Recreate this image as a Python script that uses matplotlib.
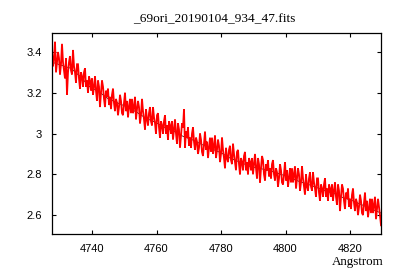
import numpy as np
import matplotlib
matplotlib.use("Agg")
import matplotlib.pyplot as plt

title = "_69ori_20190104_934_47.fits"
xlabel = "Angstrom"
wave_start = 4727.6
wave_end = 4829.6

flux_red = [
    3.40, 3.33, 3.37, 3.45, 3.30, 3.35, 3.40, 3.37, 3.29, 3.34, 3.44, 3.35, 3.31, 3.27, 3.37, 3.19, 3.30, 3.35, 3.38, 3.31,
    3.29, 3.41, 3.33, 3.30, 3.25, 3.34, 3.34, 3.27, 3.22, 3.30, 3.28, 3.23, 3.30, 3.32, 3.23, 3.26, 3.20, 3.28, 3.26, 3.21,
    3.27, 3.19, 3.23, 3.28, 3.21, 3.16, 3.26, 3.23, 3.13, 3.20, 3.26, 3.23, 3.17, 3.13, 3.21, 3.18, 3.22, 3.14, 3.18, 3.12,
    3.19, 3.22, 3.15, 3.11, 3.17, 3.15, 3.09, 3.13, 3.19, 3.16, 3.10, 3.09, 3.15, 3.20, 3.11, 3.16, 3.08, 3.13, 3.17, 3.10,
    3.17, 3.10, 3.13, 3.18, 3.07, 3.12, 3.16, 3.13, 3.05, 3.09, 3.17, 3.11, 3.07, 3.02, 3.12, 3.07, 3.04, 3.10, 3.13, 3.06,
    3.04, 3.13, 3.08, 3.05, 3.00, 3.09, 3.10, 3.03, 2.98, 3.06, 3.04, 3.00, 3.06, 3.09, 3.00, 3.04, 2.97, 3.06, 3.04, 3.00,
    3.06, 2.97, 3.02, 3.07, 3.00, 2.95, 3.05, 3.02, 2.93, 2.99, 3.05, 3.03, 3.12, 2.93, 3.01, 2.98, 3.03, 2.94, 2.98, 2.93,
    3.00, 3.03, 2.96, 2.92, 2.98, 2.96, 2.90, 2.93, 3.00, 2.97, 2.91, 2.89, 2.95, 3.01, 2.92, 2.96, 2.88, 2.93, 2.98, 2.91,
    2.98, 2.90, 2.94, 2.99, 2.88, 2.92, 2.97, 2.94, 2.86, 2.90, 2.98, 2.92, 2.88, 2.83, 2.93, 2.88, 2.86, 2.92, 2.94, 2.87,
    2.85, 2.95, 2.90, 2.86, 2.82, 2.91, 2.92, 2.85, 2.80, 2.88, 2.86, 2.82, 2.89, 2.91, 2.82, 2.86, 2.80, 2.88, 2.86, 2.82,
    2.88, 2.80, 2.85, 2.90, 2.83, 2.78, 2.88, 2.85, 2.76, 2.83, 2.89, 2.87, 2.80, 2.77, 2.85, 2.82, 2.87, 2.79, 2.83, 2.78,
    2.85, 2.87, 2.80, 2.77, 2.83, 2.81, 2.74, 2.78, 2.85, 2.82, 2.76, 2.75, 2.80, 2.86, 2.77, 2.82, 2.74, 2.78, 2.83, 2.76,
    2.83, 2.76, 2.80, 2.84, 2.73, 2.78, 2.83, 2.80, 2.72, 2.76, 2.84, 2.78, 2.74, 2.70, 2.80, 2.74, 2.72, 2.78, 2.81, 2.74,
    2.72, 2.81, 2.76, 2.73, 2.69, 2.78, 2.78, 2.71, 2.67, 2.75, 2.73, 2.69, 2.75, 2.78, 2.69, 2.73, 2.67, 2.75, 2.73, 2.69,
    2.75, 2.67, 2.72, 2.76, 2.69, 2.65, 2.75, 2.72, 2.62, 2.69, 2.75, 2.73, 2.67, 2.63, 2.71, 2.68, 2.73, 2.64, 2.68, 2.63,
    2.70, 2.73, 2.66, 2.62, 2.68, 2.66, 2.60, 2.64, 2.70, 2.67, 2.61, 2.60, 2.66, 2.71, 2.62, 2.67, 2.59, 2.63, 2.68, 2.61,
    2.68, 2.61, 2.65, 2.69, 2.58, 2.63, 2.68, 2.64, 2.60, 2.55,
]

flux_black = [
    3.35, 3.335, 3.32, 3.28, 3.23, 3.205, 3.17, 3.15, 3.13, 3.105,
    3.075, 3.055, 3.03, 3.01, 2.985, 2.968, 2.945, 2.925, 2.905, 2.878,
    2.86, 2.84, 2.83, 2.82, 2.805, 2.79, 2.77, 2.755, 2.738, 2.72,
    2.706, 2.685, 2.67, 2.65, 2.63, 2.61,
]

wave_red = np.linspace(wave_start, wave_end, len(flux_red))
wave_black = np.linspace(wave_start, wave_end, len(flux_black))

fig = plt.figure(figsize=(4.0, 2.8), dpi=100)
ax = fig.add_axes([0.13, 0.164, 0.8225, 0.718])
ax.plot(wave_black, flux_black, color="black", lw=0.5)
ax.plot(wave_red, flux_red, color="#ff0000", lw=1.3, solid_joinstyle="miter")

ax.set_xlim(wave_start, wave_end)
ax.set_ylim(2.507, 3.493)
ax.set_xticks([4740, 4760, 4780, 4800, 4820])
ax.set_yticks([2.6, 2.8, 3.0, 3.2, 3.4])
ax.set_yticklabels(["2.6", "2.8", "3", "3.2", "3.4"])
ax.tick_params(direction="in", length=3, width=0.8, top=True, right=True,
               labelsize=8, pad=7)
for lab in ax.get_xticklabels() + ax.get_yticklabels():
    lab.set_family("Liberation Sans")
for s in ax.spines.values():
    s.set_linewidth(0.9)

fig.text(0.536, 0.932, title, ha="center", va="center", fontsize=9.6,
         family="Liberation Serif")
fig.text(0.894, 0.064, xlabel, ha="center", va="center", fontsize=9.4,
         family="Liberation Serif")

fig.savefig("out.png", dpi=100)
